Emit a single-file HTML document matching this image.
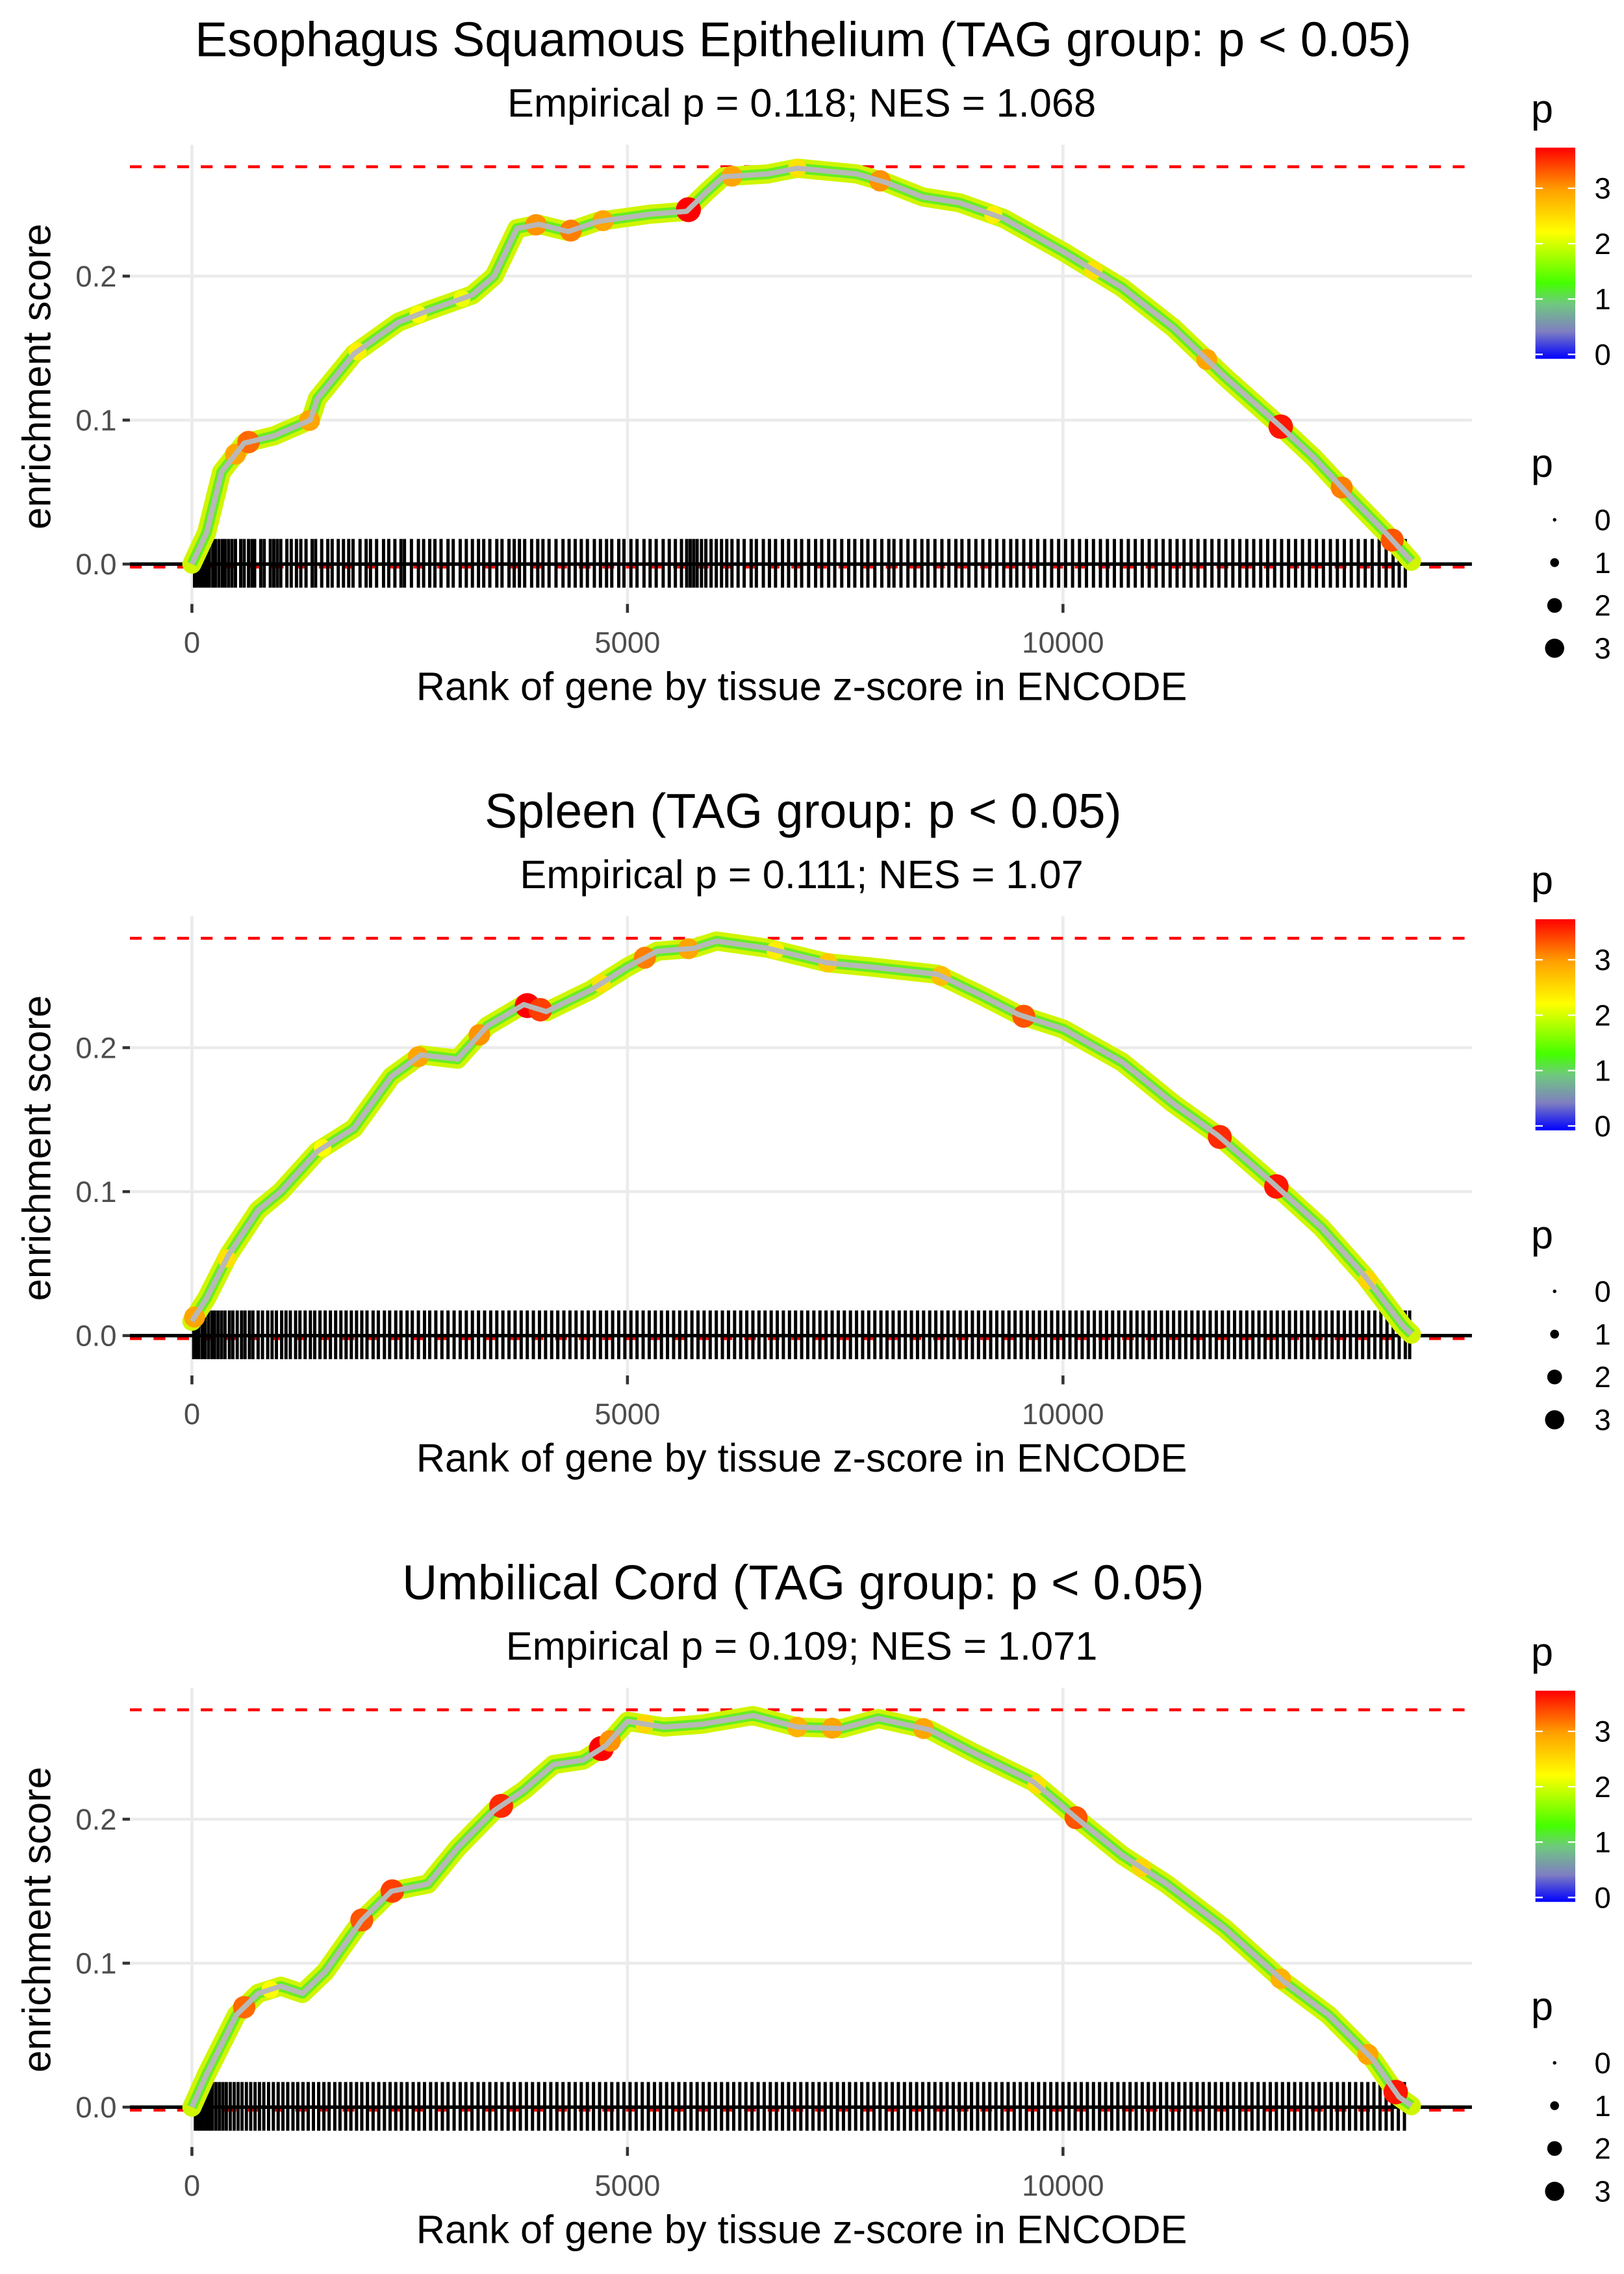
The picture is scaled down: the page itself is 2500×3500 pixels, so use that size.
<!DOCTYPE html>
<html><head><meta charset="utf-8"><style>
html,body{margin:0;padding:0;background:#fff}
svg{display:block;font-family:"Liberation Sans",sans-serif}
</style></head><body>
<svg id="chart" width="2500" height="3500" viewBox="0 0 1100 1540" xmlns="http://www.w3.org/2000/svg">
<defs>
<linearGradient id="cbar" x1="0" y1="1" x2="0" y2="0">
<stop offset="0" stop-color="#0000ff"/>
<stop offset="0.13" stop-color="#7f7fc0"/>
<stop offset="0.26" stop-color="#70c880"/>
<stop offset="0.36" stop-color="#44ff00"/>
<stop offset="0.6" stop-color="#ffff00"/>
<stop offset="0.8" stop-color="#ffa000"/>
<stop offset="1" stop-color="#ff0000"/>
</linearGradient>
</defs>
</svg>
<script>
const titles = ["Esophagus Squamous Epithelium (TAG group: p < 0.05)","Spleen (TAG group: p < 0.05)","Umbilical Cord (TAG group: p < 0.05)"];
const subtitles = ["Empirical p = 0.118; NES = 1.068","Empirical p = 0.111; NES = 1.07","Empirical p = 0.109; NES = 1.071"];
const xTicks = [0,5000,10000];
const xTickLabels = ["0","5000","10000"];
const yTicks = [0,0.1,0.2];
const yTickLabels = ["0.0","0.1","0.2"];
const maxES = [0.276,0.276,0.276];
const ranks1 = [0,170,340,600,940,1360,1440,1860,2370,2710,3220,3470,3730,3980,4320,4660,5250,5680,5900,6100,6610,6950,7630,7970,8390,8810,9320,10000,10680,11270,11860,12490,12880,13310,13730,14000];
const es1 = [0,0.022,0.064,0.084,0.089,0.10,0.115,0.146,0.168,0.176,0.187,0.20,0.233,0.236,0.231,0.238,0.243,0.245,0.258,0.269,0.271,0.275,0.271,0.265,0.255,0.251,0.24,0.217,0.192,0.164,0.130,0.096,0.074,0.046,0.02,0.002];
const ranks2 = [0,170,420,760,1020,1440,1860,2290,2630,3050,3390,3810,4070,4580,5000,5340,5760,6020,6610,7290,7800,8560,9070,9490,10000,10680,11270,11780,12370,12970,13470,13900,14000];
const es2 = [0.01,0.026,0.056,0.087,0.10,0.128,0.144,0.18,0.195,0.192,0.215,0.23,0.225,0.24,0.256,0.267,0.269,0.274,0.269,0.259,0.256,0.251,0.236,0.223,0.213,0.19,0.161,0.139,0.108,0.075,0.041,0.007,0.001];
const ranks3 = [0,170,510,760,1020,1270,1530,1950,2290,2710,3050,3470,3810,4150,4490,4750,5000,5420,5850,6440,6950,7460,7880,8470,8980,9660,10170,10680,11190,11860,12540,13050,13560,13860,14000];
const es3 = [0,0.023,0.064,0.079,0.084,0.079,0.094,0.13,0.15,0.155,0.18,0.206,0.22,0.238,0.241,0.251,0.268,0.264,0.266,0.272,0.264,0.263,0.27,0.262,0.246,0.226,0.20,0.175,0.155,0.124,0.087,0.064,0.033,0.007,0.001];
const dotRanks1 = [500,650,1350,3950,4350,4720,5700,6200,6950,7900,9200,10350,11650,12500,13200,13780,1900,2600,3100];
const dotP1 = [3.0,3.3,3.0,3.1,3.2,3.0,3.8,3.0,2.5,3.1,2.4,2.5,3.0,3.7,3.2,3.4,2.4,2.3,2.2];
const dotRanks2 = [30,400,2600,3300,3850,4000,5200,5700,6700,7300,8600,9550,11800,12450,13500,1500,4700];
const dotP2 = [3.0,2.5,3.0,3.1,3.8,3.5,3.2,3.0,2.4,2.7,2.8,3.4,3.6,3.7,2.6,2.3,2.5];
const dotRanks3 = [600,1950,2300,3550,4700,4800,5200,6950,7350,8400,10150,10900,12500,13500,13820,900,9700];
const dotP3 = [3.3,3.4,3.5,3.6,3.8,3.1,2.6,2.9,3.0,3.0,3.4,2.6,2.9,3.0,3.7,2.3,2.5];
const rug1 = [30,60,90,110,140,170,200,240,270,310,350,380,420,460,500,560,600,650,690,720,790,830,900,940,980,1020,1090,1140,1200,1250,1310,1380,1420,1490,1560,1610,1680,1740,1800,1850,1930,2000,2050,2120,2200,2260,2330,2400,2440,2520,2600,2660,2730,2790,2860,2940,3000,3080,3150,3220,3290,3350,3420,3500,3560,3640,3700,3760,3820,3900,3970,4030,4100,4180,4260,4330,4400,4470,4540,4620,4690,4760,4820,4900,4960,5040,5110,5190,5260,5330,5410,5480,5550,5620,5680,5720,5760,5800,5850,5900,5960,6020,6080,6140,6200,6270,6340,6420,6480,6560,6630,6700,6780,6850,6930,7000,7080,7160,7230,7310,7380,7460,7540,7610,7690,7760,7840,7920,8000,8060,8140,8220,8300,8380,8450,8530,8610,8690,8770,8840,8920,9000,9080,9160,9240,9320,9400,9470,9550,9630,9710,9790,9870,9950,10030,10110,10190,10270,10350,10430,10510,10590,10670,10750,10830,10910,10990,11070,11150,11230,11310,11390,11470,11550,11630,11710,11790,11870,11950,12030,12110,12190,12270,12350,12430,12510,12590,12670,12750,12830,12910,12990,13070,13150,13230,13310,13390,13470,13550,13630,13710,13790,13860,13930];
const rug2 = [20,50,80,120,150,190,230,260,300,340,380,430,470,520,570,610,660,700,760,810,870,920,970,1030,1080,1130,1190,1240,1300,1360,1410,1470,1530,1590,1650,1710,1770,1830,1890,1950,2010,2080,2140,2210,2270,2340,2400,2470,2530,2600,2670,2730,2800,2870,2940,3010,3080,3150,3220,3290,3360,3430,3500,3570,3640,3710,3780,3850,3920,3990,4060,4130,4200,4270,4340,4410,4480,4550,4620,4690,4760,4830,4900,4970,5040,5110,5180,5250,5320,5390,5460,5530,5600,5670,5740,5810,5880,5950,6020,6090,6160,6230,6300,6370,6440,6510,6580,6650,6720,6790,6860,6930,7000,7070,7140,7210,7280,7350,7420,7490,7560,7630,7700,7770,7840,7910,7980,8050,8120,8190,8260,8330,8400,8470,8540,8610,8680,8750,8820,8890,8960,9030,9100,9170,9240,9310,9380,9450,9520,9590,9660,9730,9800,9870,9940,10010,10080,10150,10220,10290,10360,10430,10500,10570,10640,10710,10780,10850,10920,10990,11060,11130,11200,11270,11340,11410,11480,11550,11620,11690,11760,11830,11900,11970,12040,12110,12180,12250,12320,12390,12460,12530,12600,12670,12740,12810,12880,12950,13020,13090,13160,13230,13300,13370,13440,13510,13580,13650,13720,13790,13860,13930,13980];
const rug3 = [40,70,100,130,165,200,235,275,315,355,395,440,485,530,575,625,675,725,775,825,880,935,990,1045,1100,1160,1215,1275,1335,1395,1455,1515,1575,1640,1700,1765,1825,1890,1950,2015,2080,2145,2210,2275,2340,2405,2470,2540,2605,2670,2740,2805,2875,2940,3010,3080,3145,3215,3285,3350,3420,3490,3560,3630,3700,3770,3840,3910,3980,4050,4120,4190,4260,4330,4400,4470,4540,4610,4680,4750,4820,4890,4960,5030,5100,5170,5240,5310,5380,5450,5520,5590,5660,5730,5800,5870,5940,6010,6080,6150,6220,6290,6360,6430,6500,6570,6640,6710,6780,6850,6920,6990,7060,7130,7200,7270,7340,7410,7480,7550,7620,7690,7760,7830,7900,7970,8040,8110,8180,8250,8320,8390,8460,8530,8600,8670,8740,8810,8880,8950,9020,9090,9160,9230,9300,9370,9440,9510,9580,9650,9720,9790,9860,9930,10000,10070,10140,10210,10280,10350,10420,10490,10560,10630,10700,10770,10840,10910,10980,11050,11120,11190,11260,11330,11400,11470,11540,11610,11680,11750,11820,11890,11960,12030,12100,12170,12240,12310,12380,12450,12520,12590,12660,12730,12800,12870,12940,13010,13080,13150,13220,13290,13360,13430,13500,13570,13640,13710,13780,13850,13920];

const panels = [
 {ranks:ranks1, es:es1, dr:dotRanks1, dp:dotP1, rug:rug1},
 {ranks:ranks2, es:es2, dr:dotRanks2, dp:dotP2, rug:rug2},
 {ranks:ranks3, es:es3, dr:dotRanks3, dp:dotP3, rug:rug3}
];
const NS="http://www.w3.org/2000/svg";
const svg=document.getElementById('chart');
function mk(tag,attrs,parent){const e=document.createElementNS(NS,tag);for(const k in attrs)e.setAttribute(k,attrs[k]);(parent||svg).appendChild(e);return e;}
function pColor(p){
 const stops=[[0,[0,0,255]],[0.5,[127,127,192]],[1,[112,200,128]],[1.37,[68,255,0]],[2.28,[255,255,0]],[3.04,[255,160,0]],[3.8,[255,0,0]]];
 for(let i=1;i<stops.length;i++){if(p<=stops[i][0]){const a=stops[i-1],b=stops[i];const t=(p-a[0])/(b[0]-a[0]);const c=a[1].map((v,j)=>Math.round(v+(b[1][j]-v)*t));return 'rgb('+c.join(',')+')';}}
 return 'rgb(255,0,0)';
}
function interp(xs,ys,x){for(let i=1;i<xs.length;i++){if(x<=xs[i]){const t=(x-xs[i-1])/(xs[i]-xs[i-1]);return ys[i-1]+t*(ys[i]-ys[i-1]);}}return ys[ys.length-1];}

panels.forEach((P,k)=>{
 const off=k*522.5;
 const xS=r=>130+r*(295/5000);
 const yS=v=>off+382-v*975;
 const g=mk('g',{});
 
 
 const t=mk('text',{x:544,y:off+38,'font-size':33,'text-anchor':'middle',fill:'#000'},g);t.textContent=titles[k];
 
 const st=mk('text',{x:543,y:off+79,'font-size':27,'text-anchor':'middle',fill:'#000'},g);st.textContent=subtitles[k];
 
 xTicks.forEach(v=>{const l=mk('line',{x1:xS(v),x2:xS(v),y1:off+98,y2:off+410,stroke:'#ebebeb','stroke-width':2},g);
  });
 [0.1,0.2].forEach(v=>{const l=mk('line',{x1:88,x2:997,y1:yS(v),y2:yS(v),stroke:'#ebebeb','stroke-width':2},g);
  });
 const rd=mk('line',{x1:88,x2:997,y1:yS(maxES[k]),y2:yS(maxES[k]),stroke:'#ff0000','stroke-width':2,'stroke-dasharray':'8,8'},g);
 
 const rd0=mk('line',{x1:88,x2:997,y1:yS(0)+2,y2:yS(0)+2,stroke:'#ff0000','stroke-width':2,'stroke-dasharray':'8,8'},g);
 
 P.rug.forEach(r=>{const l=mk('line',{x1:xS(r),x2:xS(r),y1:yS(0)-17,y2:yS(0)+16,stroke:'#000','stroke-width':2.2},g);
  });
 const zl=mk('line',{x1:88,x2:997,y1:yS(0),y2:yS(0),stroke:'#000','stroke-width':2.4},g);
 
 const pts=P.ranks.map((r,i)=>xS(r).toFixed(1)+','+yS(P.es[i]).toFixed(1)).join(' ');
 const c1=mk('polyline',{points:pts,fill:'none',stroke:'#d0f500','stroke-width':13,'stroke-linejoin':'round','stroke-linecap':'round'},g);
 
 const c2=mk('polyline',{points:pts,fill:'none',stroke:'#66ee22','stroke-width':7,'stroke-linejoin':'round'},g);
 
 P.dr.forEach((r,i)=>{const p=P.dp[i];const d=mk('circle',{cx:xS(r),cy:yS(interp(P.ranks,P.es,r)),r:2+p*1.7,fill:pColor(p)},g);
  });
 const c3=mk('polyline',{points:pts,fill:'none',stroke:'#b8b8b8','stroke-width':3.5,'stroke-linejoin':'round'},g);
 
 xTicks.forEach((v,i)=>{mk('line',{x1:xS(v),x2:xS(v),y1:off+409,y2:off+415,stroke:'#333','stroke-width':2},g);
  const tl=mk('text',{x:xS(v),y:off+442,'font-size':20,'text-anchor':'middle',fill:'#4d4d4d'},g);tl.textContent=xTickLabels[i];
  });
 yTicks.forEach((v,i)=>{mk('line',{x1:83,x2:88,y1:yS(v),y2:yS(v),stroke:'#333','stroke-width':2},g);
  const tl=mk('text',{x:79,y:yS(v)+7,'font-size':20,'text-anchor':'end',fill:'#4d4d4d'},g);tl.textContent=yTickLabels[i];
  });
 const xt=mk('text',{x:543,y:off+474,'font-size':27,'text-anchor':'middle',fill:'#000'},g);xt.textContent='Rank of gene by tissue z-score in ENCODE';
 
 const yt=mk('text',{x:0,y:0,'font-size':27,'text-anchor':'middle',fill:'#000',transform:'translate(34,'+(off+255)+') rotate(-90)'},g);yt.textContent='enrichment score';
 
 const lp=mk('text',{x:1037,y:off+83,'font-size':27,fill:'#000'},g);lp.textContent='p';
 
 const cb=mk('rect',{x:1040,y:off+100,width:27,height:143,fill:'url(#cbar)'},g);
 
 [0,1,2,3].forEach(v=>{const yy=off+240-v*37.5;
  mk('line',{x1:1040,x2:1045,y1:yy,y2:yy,stroke:'#fff','stroke-width':1},g);
  mk('line',{x1:1062,x2:1067,y1:yy,y2:yy,stroke:'#fff','stroke-width':1},g);
  const tl=mk('text',{x:1080,y:yy+7,'font-size':20,fill:'#000'},g);tl.textContent=String(v);
  });
 const sp=mk('text',{x:1037,y:off+323,'font-size':27,fill:'#000'},g);sp.textContent='p';
 
 [0,1,2,3].forEach(v=>{const yy=off+352+v*29;
  const d=mk('circle',{cx:1053,cy:yy,r:[1.2,3,5,6.5][v],fill:'#000'},g);
  
  const tl=mk('text',{x:1080,y:yy+7,'font-size':20,fill:'#000'},g);tl.textContent=String(v);
  });
});
</script>
</body></html>
